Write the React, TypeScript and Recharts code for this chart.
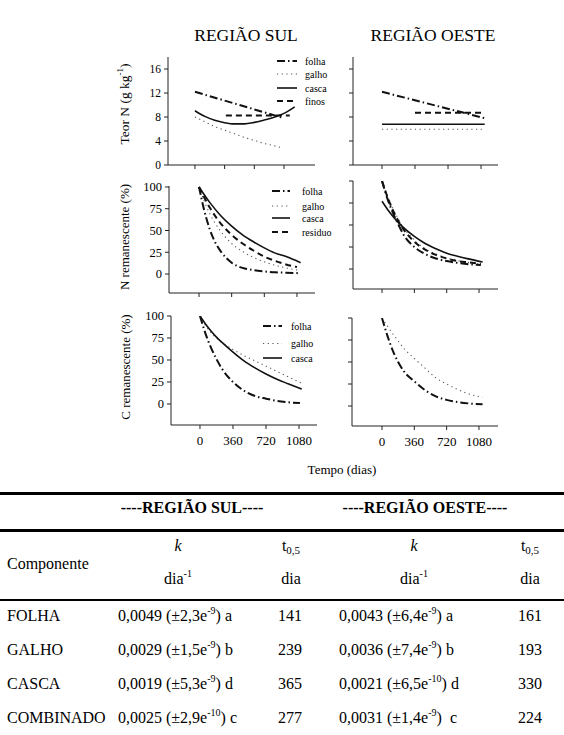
import React from "react";
import { LineChart, Line, XAxis, YAxis, Legend } from "recharts";

const FONT = '"Liberation Serif", "Times New Roman", serif';

// ---------- tick labels / texts ----------
const xTickDays = [0, 360, 720, 1080];
const teorTicks = [0, 4, 8, 12, 16];
const remTicks = [0, 25, 50, 75, 100];
const regionTitles = ["REGIÃO SUL", "REGIÃO OESTE"];
const xTitle = "Tempo (dias)";

// ---------- Teor N (g kg-1) – Sul ----------
const teorSulFolhaDias = [0, 1080];
const teorSulFolha = [12.2, 7.8];
const teorSulGalhoDias = [0, 120, 240, 360, 480, 600, 720, 840, 960, 1070];
const teorSulGalho = [8.0, 7.2, 6.4, 5.8, 5.2, 4.6, 4.1, 3.6, 3.2, 2.8];
const teorSulCascaDias = [0, 120, 240, 360, 480, 600, 720, 840, 960, 1080, 1210];
const teorSulCasca = [9.05, 8.1, 7.45, 7.05, 6.85, 6.85, 7.1, 7.5, 7.95, 8.6, 9.7];
const teorSulFinosDias = [375, 1150];
const teorSulFinos = [8.25, 8.25];

// ---------- Teor N – Oeste ----------
const teorOesteFolhaDias = [0, 1120];
const teorOesteFolha = [12.2, 7.8];
const teorOesteGalhoDias = [0, 1120];
const teorOesteGalho = [5.95, 5.95];
const teorOesteCascaDias = [0, 1120];
const teorOesteCasca = [6.8, 6.8];
const teorOesteFinosDias = [360, 1115];
const teorOesteFinos = [8.7, 8.7];

// ---------- N remanescente (%) – Sul ----------
const nSulFolhaDias = [0, 60, 120, 180, 240, 360, 480, 600, 720, 840, 960, 1090];
const nSulFolha = [100, 72, 51, 36, 26, 13, 7, 4.5, 3, 2, 1.5, 1];
const nSulGalhoDias = [0, 60, 120, 180, 240, 360, 480, 600, 720, 840, 960, 1120];
const nSulGalho = [100, 83, 69, 58, 49, 35, 26, 19, 14, 10, 7, 4];
const nSulCascaDias = [0, 120, 240, 360, 480, 600, 720, 840, 960, 1120];
const nSulCasca = [100, 82, 67, 55, 45, 37, 30, 24, 20, 13];
const nSulResiduoDias = [0, 120, 240, 360, 480, 600, 720, 840, 960, 1080];
const nSulResiduo = [100, 76, 58, 45, 35, 27, 20, 15, 11, 8];

// ---------- N remanescente (%) – Oeste ----------
const nOesteFolhaDias = [0, 60, 120, 180, 240, 360, 480, 600, 720, 840, 960, 1100];
const nOesteFolha = [100, 80, 64, 51, 39, 25, 17, 12, 9, 7, 5.5, 4.5];
const nOesteGalhoDias = [0, 60, 120, 180, 240, 360, 480, 600, 720, 840, 960, 1100];
const nOesteGalho = [100, 83, 69, 57, 47, 33, 23, 17, 12.5, 9.5, 7.5, 5.5];
const nOesteCascaDias = [0, 60, 120, 180, 240, 360, 480, 600, 720, 840, 960, 1120];
const nOesteCasca = [77, 68, 60, 53, 47, 37, 29, 23, 18, 14.5, 11.5, 8];
const nOesteResiduoDias = [0, 60, 120, 180, 240, 360, 480, 600, 720, 840, 960, 1100];
const nOesteResiduo = [100, 82, 67, 55, 45, 31, 22, 16, 12, 9, 7.5, 6];

// ---------- C remanescente (%) – Sul ----------
const cSulFolhaDias = [0, 60, 120, 180, 240, 360, 480, 600, 720, 840, 960, 1090];
const cSulFolha = [100, 80, 64, 51, 40, 25, 15, 9, 6, 3.5, 2, 1];
const cSulGalhoDias = [0, 60, 120, 180, 240, 360, 480, 600, 720, 840, 960, 1100];
const cSulGalho = [100, 89, 81, 75, 70, 62, 55, 49, 43, 37, 31, 24];
const cSulCascaDias = [0, 60, 120, 180, 240, 360, 480, 600, 720, 840, 960, 1110];
const cSulCasca = [100, 91, 83, 76, 70, 59, 49, 41, 34, 28, 23, 17];

// ---------- C remanescente (%) – Oeste ----------
const cOesteFolhaDias = [0, 60, 120, 180, 240, 360, 480, 600, 720, 840, 960, 1120];
const cOesteFolha = [100, 80, 63, 50, 40, 28, 18, 11, 7, 4.5, 3, 2];
const cOesteGalhoDias = [0, 60, 120, 180, 240, 360, 480, 600, 720, 840, 960, 1120];
const cOesteGalho = [100, 91, 82, 74, 66, 54, 43, 32, 25, 19, 14, 10];

// ---------- table ----------
const componentes = ["FOLHA", "GALHO", "CASCA", "COMBINADO"];
const kSul = ["0,0049", "0,0029", "0,0019", "0,0025"];
const kSulErr = ["2,3", "1,5", "5,3", "2,9"];
const kSulExp = ["-9", "-9", "-9", "-10"];
const kSulLetra = ["a", "b", "d", "c"];
const tSul = ["141", "239", "365", "277"];
const kOeste = ["0,0043", "0,0036", "0,0021", "0,0031"];
const kOesteErr = ["6,4", "7,4", "6,5", "1,4"];
const kOesteExp = ["-9", "-9", "-10", "-9"];
const kOesteLetra = ["a", "b", "d", "\u00a0c"];
const tOeste = ["161", "193", "330", "224"];

type Pt = { x: number; y: number };
const zip = (d: number[], v: number[]): Pt[] => d.map((x, i) => ({ x, y: v[i] }));

type Kind = "folha" | "galho" | "casca" | "finos" | "residuo";
const STYLE: Record<Kind, { stroke: string; strokeWidth: number; strokeDasharray?: string }> = {
  folha: { stroke: "#111", strokeWidth: 2, strokeDasharray: "8 3 1.5 3" },
  galho: { stroke: "#555", strokeWidth: 1.1, strokeDasharray: "1.2 3.5" },
  casca: { stroke: "#111", strokeWidth: 1.6 },
  finos: { stroke: "#111", strokeWidth: 2, strokeDasharray: "6 4" },
  residuo: { stroke: "#111", strokeWidth: 2, strokeDasharray: "6 4" },
};

type Series = { kind: Kind; data: Pt[] };
type LegendSpec = { x: number; len: number; tx: number; rows: number[]; kinds: Kind[] };
type PanelProps = {
  box: { x0: number; y0: number; x1: number; y1: number };
  xDomain: [number, number];
  yDomain: [number, number];
  yTicks: number[];
  showX: boolean;
  showY: boolean;
  yFont: number;
  series: Series[];
  legend?: LegendSpec;
};

const Empty = () => <g />;

function Panel(p: PanelProps) {
  const { x0, y0, x1, y1 } = p.box;
  const YW = 60, MT = 10, MR = 15, XH = 30;
  const left = x0 - YW;
  const top = y0 - MT;
  const width = x1 - x0 + YW + MR;
  const height = y1 - y0 + MT + XH;
  const lg = p.legend;
  const legendContent = () => {
    if (!lg) return null;
    const minY = Math.min(...lg.rows) - 8;
    const maxY = Math.max(...lg.rows) + 8;
    return (
      <svg width={90} height={maxY - minY} style={{ display: "block", overflow: "visible" }}>
        {lg.kinds.map((k, i) => {
          const y = lg.rows[i] - minY;
          const st = STYLE[k];
          return (
            <g key={k}>
              <line x1={0} x2={lg.len} y1={y} y2={y} stroke={st.stroke} strokeWidth={st.strokeWidth}
                strokeDasharray={st.strokeDasharray} />
              <text x={lg.tx - lg.x} y={y + 3.5} fontSize={10} fontFamily={FONT} fill="#000">{k}</text>
            </g>
          );
        })}
      </svg>
    );
  };
  return (
    <div style={{ position: "absolute", left, top, width, height }}>
      <LineChart width={width} height={height} margin={{ top: MT, right: MR, bottom: 0, left: 0 }}>
        <XAxis
          dataKey="x"
          type="number"
          domain={p.xDomain}
          allowDataOverflow
          ticks={xTickDays}
          interval={0}
          height={XH}
          axisLine={{ stroke: "#222" }}
          tickLine={{ stroke: "#222" }}
          tickSize={4}
          tickMargin={7}
          tick={p.showX ? { fill: "#000", fontSize: 13, fontFamily: FONT } : Empty}
        />
        <YAxis
          type="number"
          domain={p.yDomain}
          allowDataOverflow
          ticks={p.yTicks}
          interval={0}
          width={YW}
          axisLine={{ stroke: "#222" }}
          tickLine={{ stroke: "#222" }}
          tickSize={4}
          tickMargin={3}
          tick={p.showY ? { fill: "#000", fontSize: p.yFont, fontFamily: FONT } : Empty}
        />
        {p.series.map((s) => (
          <Line
            key={s.kind}
            name={s.kind}
            data={s.data}
            dataKey="y"
            type="monotone"
            dot={false}
            activeDot={false}
            isAnimationActive={false}
            {...STYLE[s.kind]}
          />
        ))}
        {lg && (
          <Legend
            layout="vertical"
            align="center"
            verticalAlign="middle"
            content={legendContent}
            wrapperStyle={{
              left: lg.x - left,
              top: Math.min(...lg.rows) - 8 - top,
              width: 90,
              height: Math.max(...lg.rows) - Math.min(...lg.rows) + 16,
            }}
          />
        )}
      </LineChart>
    </div>
  );
}

function Txt(props: {
  cx?: number; x?: number; cy: number; size: number; bold?: boolean; italic?: boolean;
  children: React.ReactNode;
}) {
  const lh = Math.round(props.size * 1.2);
  const centered = props.cx !== undefined;
  return (
    <div
      style={{
        position: "absolute",
        left: centered ? (props.cx as number) - 150 : props.x,
        width: centered ? 300 : undefined,
        top: props.cy - lh / 2,
        height: lh,
        lineHeight: `${lh}px`,
        fontSize: props.size,
        fontFamily: FONT,
        fontWeight: props.bold ? "bold" : "normal",
        fontStyle: props.italic ? "italic" : "normal",
        textAlign: centered ? "center" : "left",
        whiteSpace: "nowrap",
        color: "#000",
      }}
    >
      {props.children}
    </div>
  );
}

function VTxt(props: { cx: number; cy: number; size: number; children: React.ReactNode }) {
  const lh = Math.round(props.size * 1.2);
  return (
    <div
      style={{
        position: "absolute",
        left: props.cx - 100,
        top: props.cy - lh / 2,
        width: 200,
        height: lh,
        lineHeight: `${lh}px`,
        textAlign: "center",
        fontSize: props.size,
        fontFamily: FONT,
        whiteSpace: "nowrap",
        transform: "rotate(-90deg)",
        transformOrigin: "50% 50%",
        color: "#000",
      }}
    >
      {props.children}
    </div>
  );
}

const Sup = ({ children, size = 9 }: { children: React.ReactNode; size?: number }) => (
  <span style={{ fontSize: size, position: "relative", top: -size * 0.7, lineHeight: 0 }}>{children}</span>
);
const Sub = ({ children, size = 10 }: { children: React.ReactNode; size?: number }) => (
  <span style={{ fontSize: size, position: "relative", top: size * 0.35, lineHeight: 0 }}>{children}</span>
);

export default function App() {
  const rowsY = [615, 649, 683, 717];
  return (
    <div style={{ position: "absolute", left: 0, top: 0, width: 564, height: 735, background: "#fff", overflow: "hidden" }}>
      <style>{`body{margin:0;background:#fff}`}</style>

      <Txt cx={246} cy={35} size={17.5}>{regionTitles[0]}</Txt>
      <Txt cx={433} cy={35} size={17.5}>{regionTitles[1]}</Txt>

      <VTxt cx={125} cy={104} size={13.5}>
        Teor N (g kg<Sup size={9}>-1</Sup>)
      </VTxt>
      <VTxt cx={125} cy={237} size={13}>N remanescente (%)</VTxt>
      <VTxt cx={126} cy={367} size={13}>C remanescente (%)</VTxt>

      <Panel
        box={{ x0: 168, y0: 57, x1: 315, y1: 165 }}
        xDomain={[-327, 1456]}
        yDomain={[0, 18]}
        yTicks={teorTicks}
        showX={false}
        showY
        yFont={11.5}
        series={[
          { kind: "galho", data: zip(teorSulGalhoDias, teorSulGalho) },
          { kind: "finos", data: zip(teorSulFinosDias, teorSulFinos) },
          { kind: "casca", data: zip(teorSulCascaDias, teorSulCasca) },
          { kind: "folha", data: zip(teorSulFolhaDias, teorSulFolha) },
        ]}
        legend={{ x: 277, len: 20, tx: 305, rows: [61, 74, 88, 101], kinds: ["folha", "galho", "casca", "finos"] }}
      />
      <Panel
        box={{ x0: 353, y0: 57, x1: 498, y1: 165 }}
        xDomain={[-316, 1265]}
        yDomain={[0, 18]}
        yTicks={teorTicks}
        showX={false}
        showY={false}
        yFont={11.5}
        series={[
          { kind: "galho", data: zip(teorOesteGalhoDias, teorOesteGalho) },
          { kind: "casca", data: zip(teorOesteCascaDias, teorOesteCasca) },
          { kind: "finos", data: zip(teorOesteFinosDias, teorOesteFinos) },
          { kind: "folha", data: zip(teorOesteFolhaDias, teorOesteFolha) },
        ]}
      />

      <Panel
        box={{ x0: 169, y0: 186, x1: 315, y1: 293 }}
        xDomain={[-331, 1279]}
        yDomain={[-21.8, 101.1]}
        yTicks={remTicks}
        showX={false}
        showY
        yFont={12.5}
        series={[
          { kind: "galho", data: zip(nSulGalhoDias, nSulGalho) },
          { kind: "residuo", data: zip(nSulResiduoDias, nSulResiduo) },
          { kind: "casca", data: zip(nSulCascaDias, nSulCasca) },
          { kind: "folha", data: zip(nSulFolhaDias, nSulFolha) },
        ]}
        legend={{ x: 272, len: 18, tx: 302, rows: [191, 206, 218, 232], kinds: ["folha", "galho", "casca", "residuo"] }}
      />
      <Panel
        box={{ x0: 353, y0: 181, x1: 498, y1: 289 }}
        xDomain={[-323, 1291]}
        yDomain={[-22.7, 100]}
        yTicks={remTicks}
        showX={false}
        showY={false}
        yFont={12.5}
        series={[
          { kind: "galho", data: zip(nOesteGalhoDias, nOesteGalho) },
          { kind: "residuo", data: zip(nOesteResiduoDias, nOesteResiduo) },
          { kind: "casca", data: zip(nOesteCascaDias, nOesteCasca) },
          { kind: "folha", data: zip(nOesteFolhaDias, nOesteFolha) },
        ]}
      />

      <Panel
        box={{ x0: 171, y0: 316, x1: 317, y1: 425 }}
        xDomain={[-316, 1276]}
        yDomain={[-23.9, 100]}
        yTicks={remTicks}
        showX
        showY
        yFont={12.5}
        series={[
          { kind: "galho", data: zip(cSulGalhoDias, cSulGalho) },
          { kind: "casca", data: zip(cSulCascaDias, cSulCasca) },
          { kind: "folha", data: zip(cSulFolhaDias, cSulFolha) },
        ]}
        legend={{ x: 263, len: 19, tx: 291, rows: [325.5, 343, 357.5], kinds: ["folha", "galho", "casca"] }}
      />
      <Panel
        box={{ x0: 352, y0: 318, x1: 498, y1: 426 }}
        xDomain={[-334, 1292]}
        yDomain={[-22.7, 100]}
        yTicks={remTicks}
        showX
        showY={false}
        yFont={12.5}
        series={[
          { kind: "galho", data: zip(cOesteGalhoDias, cOesteGalho) },
          { kind: "folha", data: zip(cOesteFolhaDias, cOesteFolha) },
        ]}
      />

      <Txt cx={342} cy={470} size={13}>{xTitle}</Txt>

      {/* table */}
      <div style={{ position: "absolute", left: 0, top: 491.5, width: 564, height: 3, background: "#000" }} />
      <div style={{ position: "absolute", left: 0, top: 528.5, width: 564, height: 3, background: "#000" }} />
      <div style={{ position: "absolute", left: 0, top: 599, width: 564, height: 1.5, background: "#000" }} />

      <Txt cx={192} cy={507} size={16} bold>----{regionTitles[0]}----</Txt>
      <Txt cx={425} cy={507} size={16} bold>----{regionTitles[1]}----</Txt>

      <Txt x={7} cy={563} size={16}>Componente</Txt>
      <Txt cx={178} cy={545} size={16} italic>k</Txt>
      <Txt cx={178} cy={578} size={16}>dia<Sup size={10}>-1</Sup></Txt>
      <Txt cx={291} cy={545} size={16}>t<Sub size={11}>0,5</Sub></Txt>
      <Txt cx={291} cy={578} size={16}>dia</Txt>
      <Txt cx={414} cy={545} size={16} italic>k</Txt>
      <Txt cx={414} cy={578} size={16}>dia<Sup size={10}>-1</Sup></Txt>
      <Txt cx={530} cy={545} size={16}>t<Sub size={11}>0,5</Sub></Txt>
      <Txt cx={530} cy={578} size={16}>dia</Txt>

      {componentes.map((c, i) => (
        <React.Fragment key={c}>
          <Txt x={7} cy={rowsY[i]} size={16}>{c}</Txt>
          <Txt x={118} cy={rowsY[i]} size={16}>
            {kSul[i]} (±{kSulErr[i]}e<Sup size={10}>{kSulExp[i]}</Sup>) {kSulLetra[i]}
          </Txt>
          <Txt cx={290} cy={rowsY[i]} size={16}>{tSul[i]}</Txt>
          <Txt x={339} cy={rowsY[i]} size={16}>
            {kOeste[i]} (±{kOesteErr[i]}e<Sup size={10}>{kOesteExp[i]}</Sup>) {kOesteLetra[i]}
          </Txt>
          <Txt cx={530} cy={rowsY[i]} size={16}>{tOeste[i]}</Txt>
        </React.Fragment>
      ))}
    </div>
  );
}
